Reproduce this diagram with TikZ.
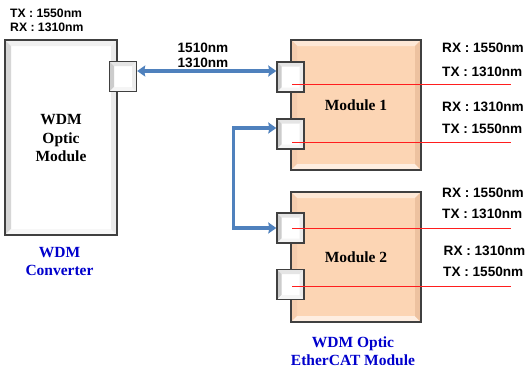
\documentclass[tikz,border=0pt]{standalone}
\usepackage{fontspec}
\setmainfont{Liberation Serif}
\newfontfamily\lblfont{Liberation Sans}
\usetikzlibrary{arrows.meta}
\definecolor{peach}{HTML}{FCD5B4}
\definecolor{peachlt}{HTML}{FEE8D6}
\definecolor{peachdk}{HTML}{EDC2A0}
\definecolor{peachmd}{HTML}{F5CDAE}
\definecolor{edgegray}{HTML}{404040}
\definecolor{arrowblue}{HTML}{4F81BD}
\definecolor{txtblue}{RGB}{0,0,204}
\definecolor{redline}{RGB}{255,30,30}
\newcommand\bevelfaces[5]{%
  \path (path picture bounding box.north west) coordinate (bvA)
        (path picture bounding box.north east) coordinate (bvB)
        (path picture bounding box.south east) coordinate (bvC)
        (path picture bounding box.south west) coordinate (bvD);
  \fill[#1] (bvA) -- (bvB) -- ([shift={(-#5,-#5)}]bvB) -- ([shift={(#5,-#5)}]bvA) -- cycle;
  \fill[#2] (bvA) -- (bvD) -- ([shift={(#5,#5)}]bvD) -- ([shift={(#5,-#5)}]bvA) -- cycle;
  \fill[#3] (bvD) -- (bvC) -- ([shift={(-#5,#5)}]bvC) -- ([shift={(#5,#5)}]bvD) -- cycle;
  \fill[#4] (bvB) -- (bvC) -- ([shift={(-#5,#5)}]bvC) -- ([shift={(-#5,-#5)}]bvB) -- cycle;
}
\tikzset{
  modbox/.style={rectangle, minimum width=130pt, minimum height=130pt, inner sep=0pt,
    draw=edgegray, line width=1.4pt, fill=peach,
    font=\bfseries\fontsize{15.5}{18}\selectfont,
    path picture={\bevelfaces{peachlt}{peachmd}{white!60!peach}{peachdk}{6pt}}},
  wdmbox/.style={rectangle, minimum width=112pt, minimum height=195pt, inner sep=0pt,
    draw=edgegray, line width=1.4pt, fill=white, align=center,
    path picture={\bevelfaces{black!6}{black!16}{black!3}{black!8}{6pt}}},
  port/.style={rectangle, minimum width=27pt, minimum height=30pt, inner sep=0pt,
    draw=edgegray, line width=1.4pt, fill=white,
    path picture={\bevelfaces{black!10}{black!20}{black!4}{black!7}{4.5pt}}},
  lbl/.style={font=\lblfont\bfseries\fontsize{13.6}{16}\selectfont, inner sep=0pt, anchor=west},
  toplbl/.style={font=\lblfont\bfseries\fontsize{12.2}{14}\selectfont, inner sep=0pt, anchor=west},
  bluetxt/.style={font=\bfseries\fontsize{15.5}{18.5}\selectfont, text=txtblue, align=center, inner sep=0pt},
  fiber/.style={draw=redline, line width=0.9pt},
  link/.style={draw=arrowblue, line width=3.4pt,
    {Stealth[length=8pt,width=11pt,inset=1pt]}-{Stealth[length=8pt,width=11pt,inset=1pt]}},
}
\begin{document}
\begin{tikzpicture}[x=1pt,y=-1pt]
\useasboundingbox (0,0) rectangle (525,370);
% WDM converter
\node[wdmbox] (wdm) at (61,137.5) {};
\node[font=\bfseries\fontsize{15.5}{18.5}\selectfont, align=center, inner sep=0pt] (wdmtxt) at (61,138.5) {WDM\\Optic\\Module};
\node[port] (wp) at (123,76.5) {};
\node[toplbl] (ttx) at (10,13) {TX : 1550nm};
\node[toplbl] (trx) at (10,27.5) {RX : 1310nm};
\node[bluetxt] (conv) at (59.5,261.5) {WDM\\Converter};
% modules
\node[modbox] (m1) at (356,105) {Module 1};
\node[modbox] (m2) at (356,257) {Module 2};
\node[port] (m1p1) at (290.5,77) {};
\node[port] (m1p2) at (290.5,134) {};
\node[port] (m2p1) at (290.5,228) {};
\node[port] (m2p2) at (290.5,284.5) {};
% fibers
\coordinate (f1) at (511,84);
\coordinate (f2) at (511,142);
\coordinate (f3) at (511,228);
\coordinate (f4) at (511,286);
\draw[fiber] ([shift={(1.5pt,-7pt)}]m1p1.center) -- (f1);
\draw[fiber] ([shift={(1.5pt,-8pt)}]m1p2.center) -- (f2);
\draw[fiber] ([shift={(1.5pt,0pt)}]m2p1.center) -- (f3);
\draw[fiber] ([shift={(1.5pt,-1.5pt)}]m2p2.center) -- (f4);
% labels
\node[lbl] (l1) at (442,48) {RX : 1550nm};
\node[lbl] (l2) at (442,72) {TX : 1310nm};
\node[lbl] (l3) at (442,107) {RX : 1310nm};
\node[lbl] (l4) at (442,129) {TX : 1550nm};
\node[lbl] (l5) at (442,193) {RX : 1550nm};
\node[lbl] (l6) at (442,214) {TX : 1310nm};
\node[lbl] (l7) at (443.5,251) {RX : 1310nm};
\node[lbl] (l8) at (443,272) {TX : 1550nm};
\node[lbl, anchor=center] (w1) at (203,48) {1510nm};
\node[lbl, anchor=center] (w2) at (203,63) {1310nm};
\node[bluetxt] (ecat) at (353,351) {WDM Optic\\EtherCAT Module};
% links
\draw[link] ([yshift=5.5pt]wp.east) -- ([yshift=6pt]m1p1.west);
\draw[link] ([yshift=6pt]m1p2.west) -- ++(-43,0) |- (m2p1.west);
\end{tikzpicture}
\end{document}
